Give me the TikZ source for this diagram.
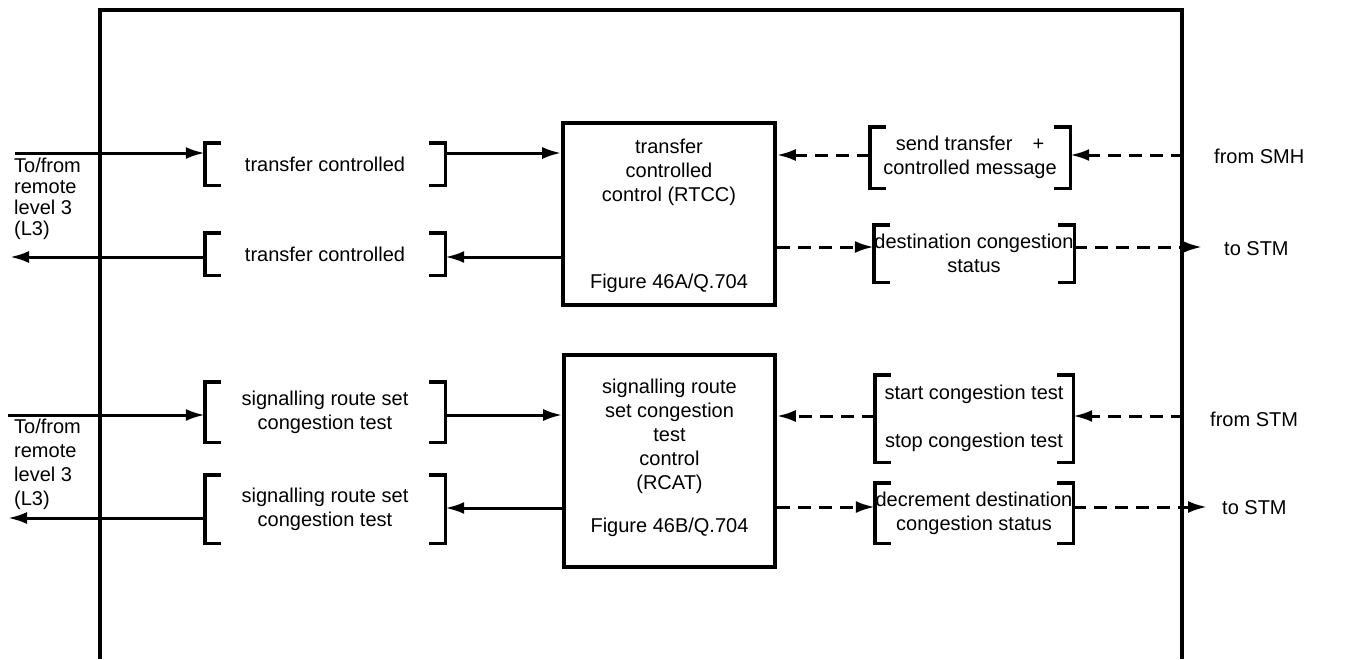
\documentclass[tikz,border=0pt]{standalone}
\usepackage{fontspec}
\setmainfont{Liberation Sans}
\usetikzlibrary{arrows.meta,calc}
\begin{document}
\begin{tikzpicture}[x=1pt,y=-1pt,
  every node/.style={font=\fontsize{20}{24}\selectfont, inner sep=0pt, align=center},
  frame/.style={line width=3.4pt},
  box/.style={draw, line width=3.6pt},
  brkline/.style={line width=3.4pt},
  arr/.style={line width=3pt, -{Latex[length=19pt,width=12pt]}},
  dsh/.style={arr, dash pattern=on 13pt off 8pt},
  dshline/.style={line width=3pt, dash pattern=on 13pt off 8pt}]
\useasboundingbox (0,0) rectangle (1367,659);

% outer frame
\draw[frame] (100,659) -- (100,10) -- (1182,10) -- (1182,659);

% control boxes
\node[box, minimum width=212pt, minimum height=182pt] (rtcc) at (669,214) {};
\node (rtcct) at (669,172) {transfer\\controlled\\control (RTCC)};
\node (rtccf) at (669,283) {Figure 46A/Q.704};

\node[box, minimum width=211pt, minimum height=212pt] (rcat) at (669.5,461) {};
\node (rcatt) at (669.5,436) {signalling route\\set congestion\\test\\control\\(RCAT)};
\node (rcatf) at (669.5,527) {Figure 46B/Q.704};

% bracketed messages
\node[minimum width=240pt, minimum height=42pt] (b1) at (325,164) {transfer controlled};
\node[minimum width=240pt, minimum height=42pt] (b2) at (325,254) {transfer controlled};
\node[minimum width=240pt, minimum height=60pt] (b3) at (325,412) {signalling route set\\congestion test};
\node[minimum width=240pt, minimum height=68pt] (b4) at (325,509) {signalling route set\\congestion test};
\node[minimum width=200pt, minimum height=61pt] (b5) at (970,157.5) {send transfer\quad+\\controlled message};
\node[minimum width=200pt, minimum height=57pt] (b6) at (974,253.5) {destination congestion\\status};
\node[minimum width=198pt, minimum height=87pt] (b7) at (974,418.5) {start congestion test\\[24pt]stop congestion test};
\node[minimum width=198pt, minimum height=60pt] (b8) at (974,513) {decrement destination\\congestion status};

\foreach \n in {b1,b2,b3,b4,b5,b6,b7,b8}{
  \draw[brkline] ($(\n.north west)+(16,0)$) -- (\n.north west) -- (\n.south west) -- ($(\n.south west)+(16,0)$);
  \draw[brkline] ($(\n.north east)+(-16,0)$) -- (\n.north east) -- (\n.south east) -- ($(\n.south east)+(-16,0)$);
}

% outside labels
\node[anchor=west, align=left, font=\fontsize{20}{21}\selectfont] (rl1) at (14,199) {To/from\\remote\\level 3\\(L3)};
\node[anchor=west, align=left, font=\fontsize{20}{24}\selectfont] (rl2) at (14,464) {To/from\\remote\\level 3\\(L3)};
\node[anchor=west] (smh) at (1214,156) {from SMH};
\node[anchor=west] (stm1) at (1224,249) {to STM};
\node[anchor=west] (stm2) at (1210,419) {from STM};
\node[anchor=west] (stm3) at (1222,508) {to STM};

% free ends
\coordinate (l1) at (15,153);
\coordinate (l2) at (10,257);
\coordinate (l3) at (8,415);
\coordinate (l4) at (8,518);
\coordinate (m4) at (563,508);
\coordinate (r1) at (1184,155);
\coordinate (r2) at (1202,247);
\coordinate (r3) at (1184,416);
\coordinate (r4) at (1207,507);

% upper group
\draw[arr] (l1) -- (l1 -| b1.west);
\draw[arr] (l1 -| b1.east) -- (l1 -| rtcc.west);
\draw[arr] (l2 -| rtcc.west) -- (l2 -| b2.east);
\draw[arr] (l2 -| b2.west) -- (l2);
\draw[dsh] (r1 -| b5.west) -- (r1 -| rtcc.east);
\draw[dsh] (r1) -- (r1 -| b5.east);
\draw[dsh] (r2 -| rtcc.east) -- (r2 -| b6.west);
\draw[dsh] (r2 -| b6.east) -- (r2);

% lower group
\draw[arr] (l3) -- (l3 -| b3.west);
\draw[arr] (l3 -| b3.east) -- (l3 -| rcat.west);
\draw[arr] (m4 -| rcat.west) -- (m4 -| b4.east);
\draw[arr] (l4 -| b4.west) -- (l4);
\draw[dsh] (r3 -| b7.west) -- (r3 -| rcat.east);
\draw[dsh] (r3) -- (r3 -| b7.east);
\draw[dsh] (r4 -| rcat.east) -- (r4 -| b8.west);
\draw[dsh] (r4 -| b8.east) -- (r4);
\end{tikzpicture}
\end{document}
